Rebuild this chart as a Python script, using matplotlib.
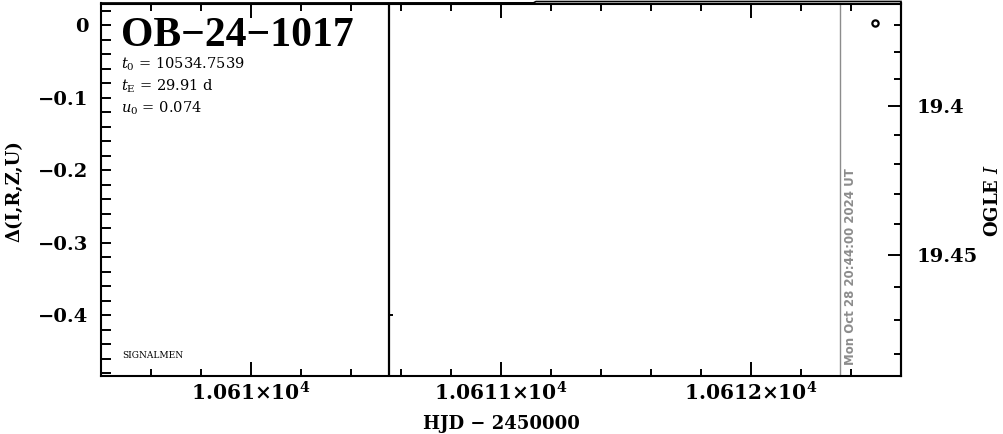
import numpy as np
import matplotlib
matplotlib.use('Agg')
import matplotlib.pyplot as plt
from matplotlib.ticker import MultipleLocator, FixedLocator, FuncFormatter

plt.rcParams['font.family'] = 'DejaVu Serif'
plt.rcParams['mathtext.fontset'] = 'dejavuserif'

# event info
event_name = 'OB\u221224\u22121017'
t0_text = '10534.7539'
tE_text = '29.91 d'
u0_text = '0.074'
stamp_text = 'Mon Oct 28 20:44:00 2024 UT'

# plot ranges (HJD - 2450000, delta mag)
x_lim = [10609.4, 10612.6]
y_lim = [-0.484, 0.030]

# marker lines
last_obs_hjd = 10610.552
now_hjd = 10612.356

# OGLE point
ogle_hjd = [10612.496]
ogle_delta = [0.003]

# small dash near the black line
dash_hjd = [10610.56]
dash_delta = [-0.400]

# model curve (just above the top of the frame)
model_hjd = [10609.4, 10611.13, 10611.14, 10612.6]
model_delta = [0.0307, 0.0309, 0.0327, 0.0328]

# right-hand scale
mag_major = [19.4, 19.45]
mag_minor = [19.37, 19.38, 19.39, 19.41, 19.42, 19.43, 19.44,
             19.46, 19.47, 19.48]

# conversion delta <-> OGLE I magnitude
base_mag = 19.37
amp = 1.5
rate = 2.4


def delta_to_mag(d):
    d = np.clip(np.asarray(d, dtype=float), -50, amp - 1e-6)
    return base_mag + np.log(1 - d / amp) / rate


def mag_to_delta(m):
    m = np.asarray(m, dtype=float)
    return -amp * (np.exp(rate * (m - base_mag)) - 1)


fig = plt.figure(figsize=(10.04, 4.34), dpi=100)
ax = fig.add_axes([101 / 1004, 1 - 376 / 434, 800 / 1004, 372.5 / 434])

ax.plot(model_hjd, model_delta, color='black', lw=1.2, clip_on=False)
ax.axvline(last_obs_hjd, color='black', lw=1.6)
ax.axvline(now_hjd, color='#8c8c8c', lw=1.0)
ax.plot(dash_hjd, dash_delta, marker='_', ms=3, mew=1.4, color='black', ls='none')
ax.plot(ogle_hjd, ogle_delta, marker='o', ms=4.5, mfc='white', mec='black',
        mew=1.6, ls='none')

ax.set_xlim(x_lim)
ax.set_ylim(y_lim)

ax.xaxis.set_major_locator(MultipleLocator(1))
ax.xaxis.set_minor_locator(MultipleLocator(0.2))
ax.yaxis.set_major_locator(MultipleLocator(0.1))
ax.yaxis.set_minor_locator(MultipleLocator(0.02))


def hjd_fmt(v, pos):
    return r'$\mathbf{%g{\times}10^{4}}$' % (v / 1e4)


def delta_fmt(v, pos):
    if abs(v) < 1e-9:
        return '0'
    return ('%g' % v).replace('-', '\u2212')


ax.xaxis.set_major_formatter(FuncFormatter(hjd_fmt))
ax.yaxis.set_major_formatter(FuncFormatter(delta_fmt))

ax.tick_params(axis='both', which='both', direction='in', top=True, right=False,
               width=1.4)
ax.tick_params(axis='x', which='major', length=10, pad=4, labelsize=14.5)
ax.tick_params(axis='x', which='minor', length=5)
ax.tick_params(axis='y', which='both', length=7, pad=9, labelsize=14)
for lab in ax.get_yticklabels():
    lab.set_fontweight('bold')

for sp in ax.spines.values():
    sp.set_linewidth(1.5)

sec = ax.secondary_yaxis('right', functions=(delta_to_mag, mag_to_delta))
sec.yaxis.set_major_locator(FixedLocator(mag_major))
sec.yaxis.set_minor_locator(FixedLocator(mag_minor))
sec.yaxis.set_major_formatter(FuncFormatter(lambda v, p: '%g' % round(v, 3)))
sec.tick_params(which='both', direction='in', width=1.4)
sec.tick_params(which='major', length=9.4, pad=11, labelsize=14)
sec.tick_params(which='minor', length=5)
sec.spines['right'].set_linewidth(1.5)
for lab in sec.get_yticklabels():
    lab.set_fontweight('bold')

# texts inside the frame
ax.text(0.025, 0.887, event_name, transform=ax.transAxes, fontsize=30,
        fontweight='bold', family='Liberation Serif', va='baseline')
ax.text(0.025, 0.826, r'$t_0$ = ' + t0_text, transform=ax.transAxes,
        fontsize=10.5, va='baseline')
ax.text(0.025, 0.767, r'$t_{\rm E}$ = ' + tE_text, transform=ax.transAxes,
        fontsize=10.5, va='baseline')
ax.text(0.025, 0.708, r'$u_0$ = ' + u0_text, transform=ax.transAxes,
        fontsize=10.5, va='baseline')
ax.text(0.026, 0.048, 'SIGNALMEN', transform=ax.transAxes, fontsize=6.5,
        va='baseline')
ax.text(now_hjd + 0.018, -0.469, stamp_text, rotation=90, color='#8c8c8c',
        fontsize=8.5, fontweight='bold', family='DejaVu Sans',
        ha='left', va='bottom')

# axis labels
fig.text(501 / 1004, 1 - 424 / 434, 'HJD \u2212 2450000', ha='center',
         va='center', fontsize=13, fontweight='bold')
fig.text(14 / 1004, 1 - 191 / 434, '\u0394(I,R,Z,U)', ha='center', va='center',
         rotation=90, fontsize=13, fontweight='bold')
fig.text(993 / 1004, 1 - 200 / 434, r'OGLE $I$', ha='center', va='center',
         rotation=90, fontsize=13, fontweight='bold')

fig.savefig('out.png', dpi=100)
